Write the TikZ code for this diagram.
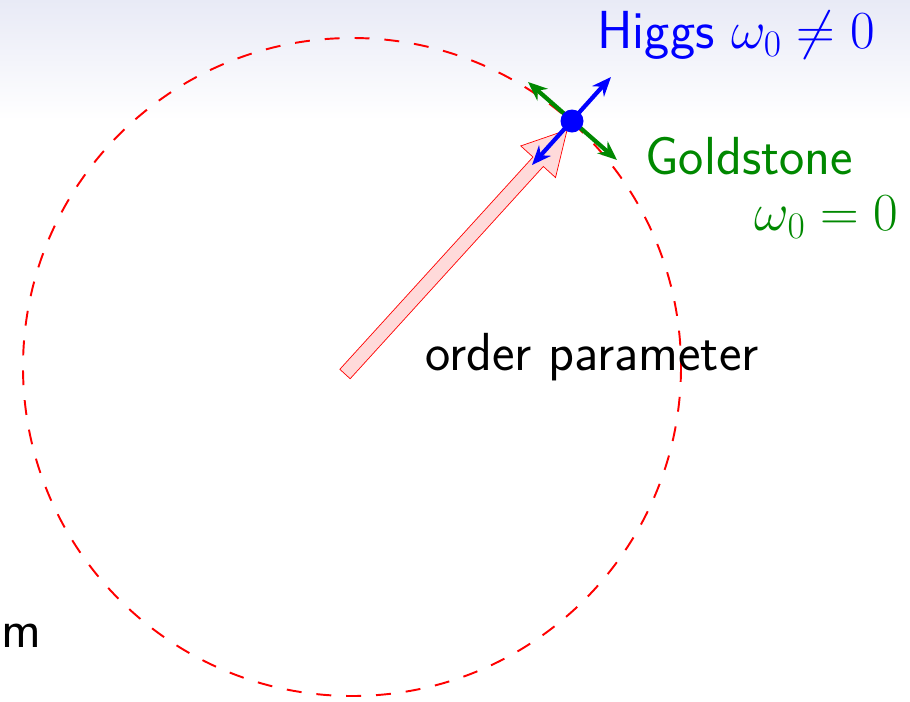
\RequirePackage{fix-cm}
\documentclass[tikz,border=0pt]{standalone}
\usepackage{amsmath}
\usetikzlibrary{arrows.meta}
\definecolor{bgtop}{RGB}{232,234,246}
\definecolor{gsgreen}{RGB}{0,136,0}
\definecolor{oparrow}{RGB}{255,218,218}

\begin{document}
\begin{tikzpicture}[x=0.02cm, y=-0.02cm,
		lbl/.style={inner sep=0pt, font=\fontsize{30.5}{36}\selectfont\sffamily},
		mode/.style={line width=2.4pt, {Stealth[length=11pt,width=9pt]}-{Stealth[length=11pt,width=9pt]}}]
		\def\cx{352}
		\def\cy{367}
		\def\rr{329}

		% --- Background ---
		\useasboundingbox (0,0) rectangle (910,701);
		\shade[top color=bgtop, bottom color=white] (0,0) rectangle (910,120);

		% --- Vacuum circle ---
		\draw[red, line width=1.1pt, dash pattern=on 8.5pt off 8.5pt] (\cx,\cy) circle[radius=\rr];

		% --- Order parameter arrow ---
		\coordinate (tail) at (345,374);
		\begin{scope}[shift={(tail)}, rotate=47.7]
			\draw[red, fill=oparrow, thin] (0,7) -- (287,7) -- (287,23.5) -- (330,0)
				-- (287,-23.5) -- (287,-7) -- (0,-7) -- cycle;
		\end{scope}

		% --- Modes at the vacuum ---
		\coordinate (gs1) at (528,82);
		\coordinate (gs2) at (617,160);
		\coordinate (hg1) at (532,165);
		\coordinate (hg2) at (611,77);
		\draw[mode, gsgreen] (gs1) -- (gs2);
		\draw[mode, blue] (hg1) -- (hg2);
		\node[circle, fill=blue, inner sep=0pt, minimum size=0.46cm] (dot) at (572,121) {};

		% --- Labels ---
		\node[lbl, blue, anchor=base west] (higgs) at (597,48) {Higgs $\omega_0\neq 0$};
		\node[lbl, gsgreen, anchor=base west] (gold) at (645,174) {Goldstone};
		\node[lbl, gsgreen, anchor=base east] (goldw) at (899,230) {$\omega_0=0$};
		\node[lbl, anchor=base west] (order) at (425,370) {order parameter};
		\node[lbl, anchor=base west] (m) at (1,647) {m};
	\end{tikzpicture}
\end{document}
